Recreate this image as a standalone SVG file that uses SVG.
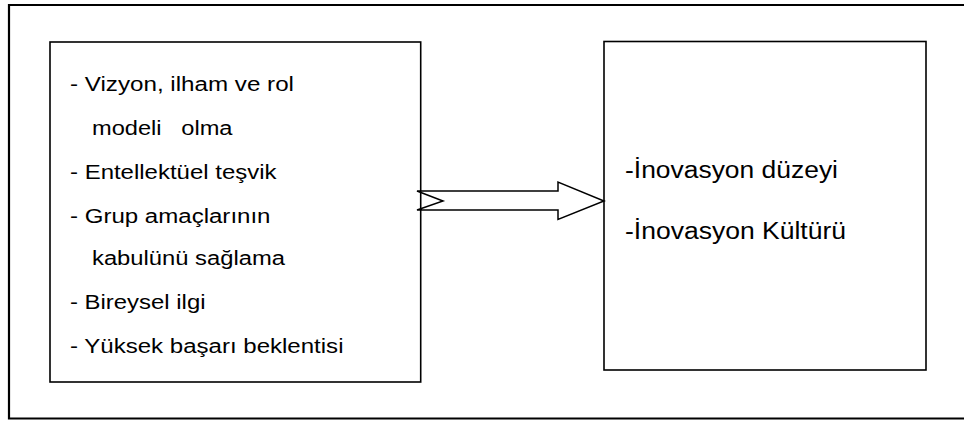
<svg xmlns="http://www.w3.org/2000/svg" width="964" height="421" viewBox="0 0 964 421">
<style>
.box{fill:#fff;stroke:#000;stroke-width:1.6}
.frame{fill:none;stroke:#000;stroke-width:2.2}
.t{font-family:"Liberation Sans",Arial,sans-serif;fill:#000;white-space:pre}
.l{font-size:20px}
.r{font-size:23px}
</style>
<rect width="964" height="421" fill="#fff"/>
<g id="frame"><path class="frame" d="M970,5 H9 V418.5 H970"/></g>
<g id="left-node">
<rect class="box" x="50" y="42" width="370.7" height="340"/>
<text class="t l" x="70" y="91" textLength="224" lengthAdjust="spacingAndGlyphs">- Vizyon, ilham ve rol</text>
<text class="t l" x="92" y="135" textLength="140.5" lengthAdjust="spacingAndGlyphs">modeli   olma</text>
<text class="t l" x="70" y="178.5" textLength="206.5" lengthAdjust="spacingAndGlyphs">- Entellektüel teşvik</text>
<text class="t l" x="70" y="222.5" textLength="200.5" lengthAdjust="spacingAndGlyphs">- Grup amaçlarının</text>
<text class="t l" x="92" y="264.5" textLength="193" lengthAdjust="spacingAndGlyphs">kabulünü sağlama</text>
<text class="t l" x="70" y="309" textLength="135.5" lengthAdjust="spacingAndGlyphs">- Bireysel ilgi</text>
<text class="t l" x="70" y="353" textLength="273.5" lengthAdjust="spacingAndGlyphs">- Yüksek başarı beklentisi</text>
</g>
<g id="right-node">
<rect class="box" x="604" y="41.5" width="322" height="328.5"/>
<text class="t r" x="625" y="177.5" textLength="213" lengthAdjust="spacingAndGlyphs">-İnovasyon düzeyi</text>
<text class="t r" x="625" y="239" textLength="221" lengthAdjust="spacingAndGlyphs">-İnovasyon Kültürü</text>
</g>
<g id="connectors">
<polygon points="417,191 558,191 558,182 604,201 558,219.5 558,210 417,210 443,201" fill="#fff" stroke="#000" stroke-width="1.5" stroke-linejoin="miter"/>
</g>
</svg>
